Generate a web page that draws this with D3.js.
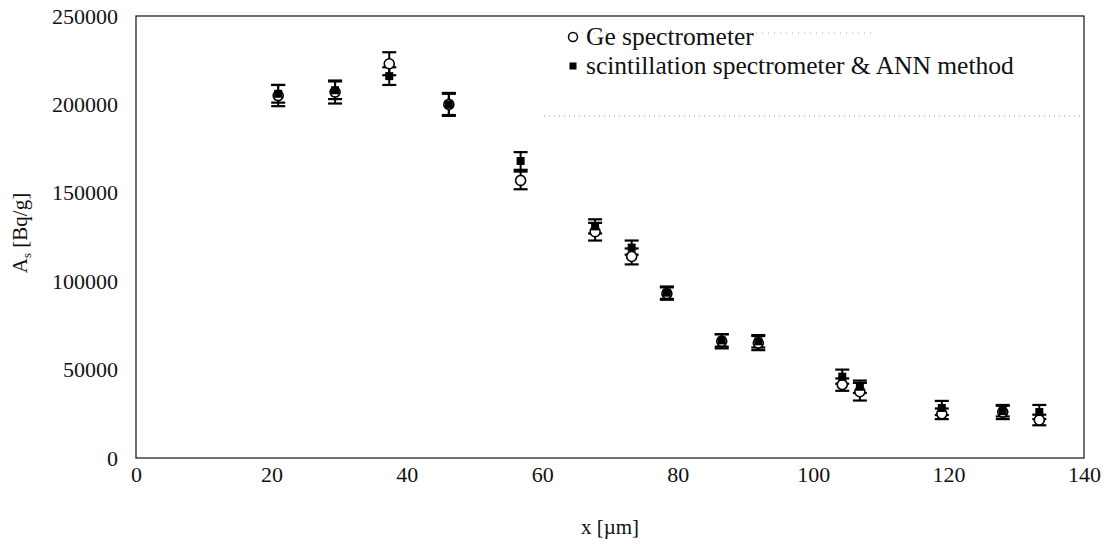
<!DOCTYPE html>
<html>
<head>
<meta charset="utf-8">
<script src="https://cdn.jsdelivr.net/npm/d3@7"></script>
<style>
  body { margin: 0; background: #fff; }
</style>
</head>
<body>
<svg id="chart" width="1110" height="546"></svg>
<script>
// measurement positions, um
const xPos = [21, 29.4, 37.4, 46.2, 56.8, 67.8, 73.2, 78.4, 86.5, 91.9, 104.3, 106.9, 119, 128, 133.4];
// Ge spectrometer, Bq/g
const geVals = [205000, 207000, 223000, 200000, 157000, 128000, 114000, 93000, 66000, 65000, 41500, 37500, 25000, 26000, 21500];
const geErr = [6000, 6500, 6500, 6500, 5000, 5000, 4500, 3500, 4000, 4000, 3500, 5000, 3000, 4000, 3000];
// scintillation spectrometer & ANN method, Bq/g
const annVals = [206000, 208000, 216000, 200000, 168000, 131000, 119000, 93500, 66500, 66000, 46000, 40300, 28300, 26500, 26000];
const annErr = [5000, 5000, 5000, 6000, 5000, 4000, 4000, 3500, 3500, 3500, 4000, 3500, 4000, 3000, 4000];

const xTicks = [0, 20, 40, 60, 80, 100, 120, 140];
const yTicks = [0, 50000, 100000, 150000, 200000, 250000];
const legendLabels = ["Ge spectrometer", "scintillation spectrometer & ANN method"];

const MARGIN = { top: 16, right: 26, bottom: 88, left: 136 };
const W = 1110, H = 546;
const width = W - MARGIN.left - MARGIN.right;
const height = H - MARGIN.top - MARGIN.bottom;
const FONT = '"Liberation Serif", "Times New Roman", "DejaVu Serif", serif';
const FONT_SIZE = 22;
const CAP = 7;

const svg = d3.select('#chart');
const g = svg.append('g').attr('transform', `translate(${MARGIN.left},${MARGIN.top})`);

const x = d3.scaleLinear().domain([0, 140]).range([0, width]);
const y = d3.scaleLinear().domain([0, 250000]).range([height, 0]);

// axes, labels only
const axisX = d3.axisBottom(x).tickValues(xTicks).tickSize(0).tickPadding(8).tickFormat(d3.format('d'));
const gx = g.append('g').attr('transform', `translate(0,${height})`).call(axisX);
gx.select('.domain').remove();
gx.attr('font-family', null).attr('font-size', null);
gx.selectAll('text').style('font-family', FONT).style('font-size', FONT_SIZE + 'px').attr('fill', '#111');

const axisY = d3.axisLeft(y).tickValues(yTicks).tickSize(0).tickPadding(18).tickFormat(d3.format('d'));
const gy = g.append('g').call(axisY);
gy.select('.domain').remove();
gy.attr('font-family', null).attr('font-size', null);
gy.selectAll('text').style('font-family', FONT).style('font-size', FONT_SIZE + 'px').attr('fill', '#111');

// faint dotted legend border lines
g.append('line').attr('x1', x(0) + 440).attr('x2', x(0) + 735).attr('y1', 17).attr('y2', 17)
  .attr('stroke', '#aaa').attr('stroke-width', 1).attr('stroke-dasharray', '1,5');
g.append('line').attr('x1', x(0) + 408).attr('x2', width - 2).attr('y1', 100).attr('y2', 100)
  .attr('stroke', '#999').attr('stroke-width', 1).attr('stroke-dasharray', '1,4');

// frame
g.append('rect')
  .attr('x', 0).attr('y', 0).attr('width', width).attr('height', height)
  .attr('fill', 'none').attr('stroke', '#111').attr('stroke-width', 1.2);

function errorBars(vals, errs, cls) {
  const eg = g.append('g').attr('class', cls);
  const sel = eg.selectAll('g').data(vals).enter().append('g');
  sel.append('line')
    .attr('x1', (d, i) => x(xPos[i])).attr('x2', (d, i) => x(xPos[i]))
    .attr('y1', (d, i) => y(d - errs[i])).attr('y2', (d, i) => y(d + errs[i]))
    .attr('stroke', '#000').attr('stroke-width', 2);
  [-1, 1].forEach(s => {
    sel.append('line')
      .attr('x1', (d, i) => x(xPos[i]) - CAP).attr('x2', (d, i) => x(xPos[i]) + CAP)
      .attr('y1', (d, i) => y(d + s * errs[i])).attr('y2', (d, i) => y(d + s * errs[i]))
      .attr('stroke', '#000').attr('stroke-width', 2.2);
  });
}

errorBars(geVals, geErr, 'ge-err');
errorBars(annVals, annErr, 'ann-err');

// Ge: open circles
g.append('g').selectAll('circle').data(geVals).enter().append('circle')
  .attr('cx', (d, i) => x(xPos[i])).attr('cy', d => y(d)).attr('r', 5)
  .attr('fill', '#fff').attr('stroke', '#000').attr('stroke-width', 1.6);

// scintillation: filled squares
g.append('g').selectAll('rect').data(annVals).enter().append('rect')
  .attr('x', (d, i) => x(xPos[i]) - 4).attr('y', d => y(d) - 4)
  .attr('width', 8).attr('height', 8).attr('fill', '#000');

// legend
const lg = g.append('g').attr('transform', `translate(${x(0) + 437},0)`);
lg.append('circle').attr('cx', 0).attr('cy', 21).attr('r', 4.5)
  .attr('fill', '#fff').attr('stroke', '#000').attr('stroke-width', 1.5);
lg.append('rect').attr('x', -3.5).attr('y', 46.5).attr('width', 7).attr('height', 7).attr('fill', '#000');
lg.selectAll('text.leg').data(legendLabels).enter().append('text')
  .attr('class', 'leg')
  .attr('x', 13).attr('y', (d, i) => 29 + i * 29)
  .style('font-family', FONT).style('font-size', '25.5px')
  .attr('fill', '#111')
  .text(d => d);

// axis titles
const yl = svg.append('text')
  .attr('transform', `translate(27,${MARGIN.top + height / 2 - 4}) rotate(-90)`)
  .attr('text-anchor', 'middle')
  .style('font-family', FONT).style('font-size', '21px').attr('fill', '#111');
yl.append('tspan').text('A');
yl.append('tspan').style('font-size', '13px').attr('dy', 4).text('s');
yl.append('tspan').attr('dy', -4).text(' [Bq/g]');

svg.append('text')
  .attr('x', MARGIN.left + x(70)).attr('y', 534)
  .attr('text-anchor', 'middle')
  .style('font-family', FONT).style('font-size', '21px').attr('fill', '#111')
  .text('x [\u00b5m]');
</script>
</body>
</html>
